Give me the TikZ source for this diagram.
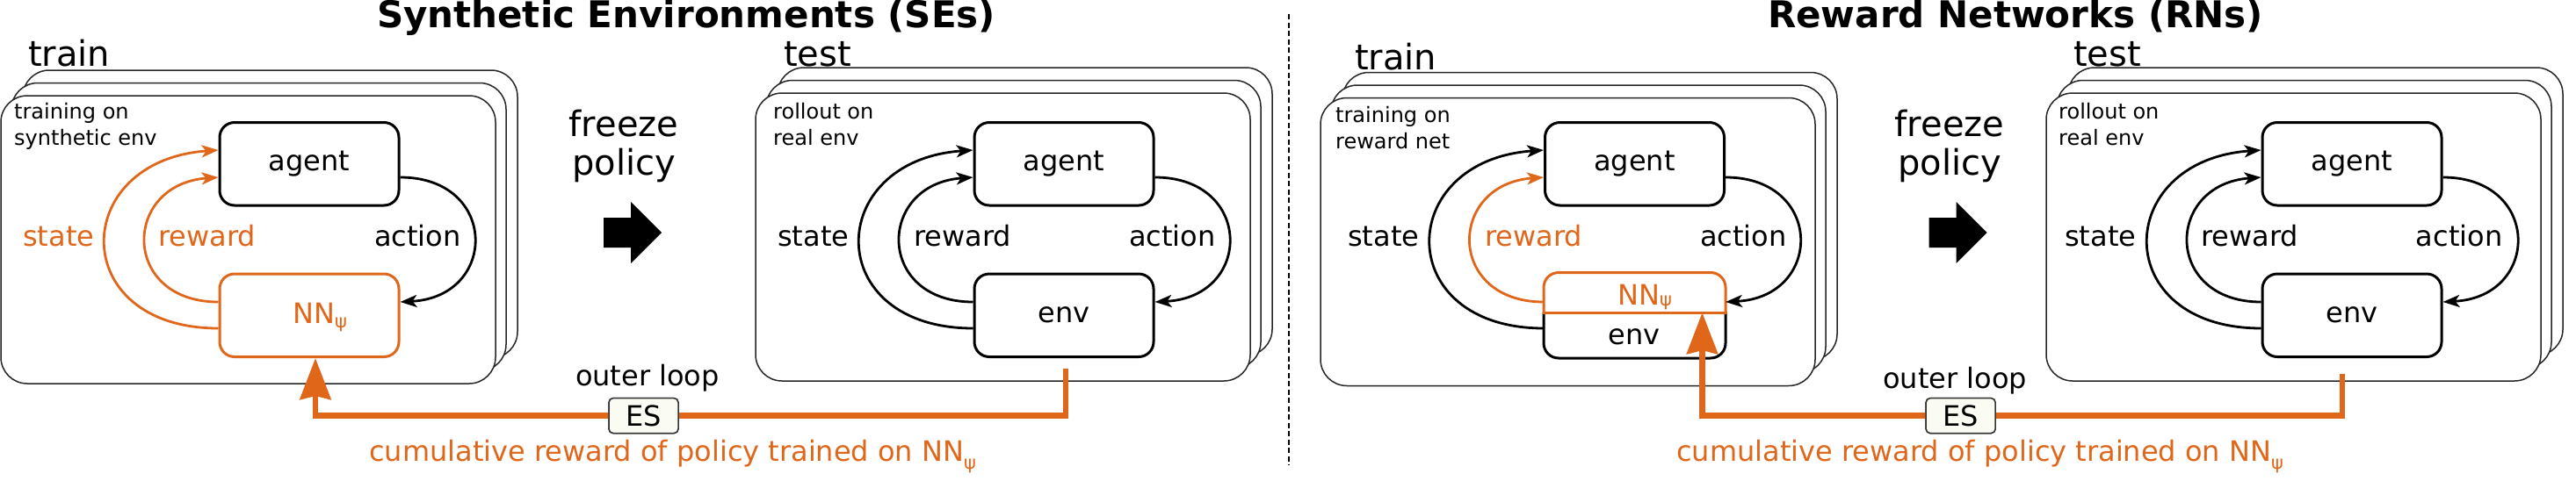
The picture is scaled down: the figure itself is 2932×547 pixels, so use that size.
\documentclass[tikz,border=0pt]{standalone}
\usepackage{fontspec}
\setmainfont{DejaVu Sans}
\usetikzlibrary{arrows.meta,calc}
\definecolor{orng}{RGB}{224,102,26}
\definecolor{esfill}{RGB}{250,251,242}
\newcommand{\stackpanel}[2]{%
  \draw[stackline] (#1+25,#2-29) rectangle +(563,328);
  \draw[stackline] (#1+12,#2-14.5) rectangle +(563,328);
  \draw[stackline] (#1,#2) rectangle +(563,328);
}
\newcommand{\psisub}[1]{\raisebox{-#1pt}{\fontsize{21}{21}\selectfont ψ}}
\newcommand{\rlarcs}[4]{%
  \draw[arcline,#3] ($(#2.west)+(0,14.75)$) .. controls +(-173,0) and +(-170,12) .. ($(#1.west)+(0,-15.75)$);
  \draw[arcline,#4] ($(#2.west)+(0,-15.25)$) .. controls +(-111,0) and +(-110,8) .. ($(#1.west)+(0,15.25)$);
  \draw[arcline] ($(#1.east)+(0,15.25)$) .. controls +(112,0) and +(112,-6) .. ($(#2.east)+(0,-15.25)$);
}
\begin{document}
\begin{tikzpicture}[x=1pt,y=-1pt,
  lbl/.style={font=\fontsize{32}{38}\selectfont, inner sep=0pt},
  sml/.style={font=\fontsize{24}{30}\selectfont, inner sep=0pt, align=left},
  big/.style={font=\fontsize{40}{44}\selectfont, inner sep=0pt},
  ttl/.style={font=\fontsize{42}{48}\selectfont\bfseries, inner sep=0pt},
  box/.style={draw, line width=3pt, rounded corners=17pt, minimum width=204pt, minimum height=94.5pt, inner sep=0pt, font=\fontsize{32}{38}\selectfont},
  arcline/.style={line width=2.8pt, -{Stealth[length=19pt,width=14pt,inset=5pt]}},
  bigarr/.style={draw=orng, line width=6.5pt, -{Stealth[length=47pt,width=35pt,inset=4pt]}},
  stackline/.style={draw=black!85, line width=1.5pt, fill=white, rounded corners=30pt},
  esbox/.style={draw=black!80, line width=1.5pt, fill=esfill, rounded corners=5pt, minimum width=79pt, minimum height=40pt, inner sep=0pt, font=\fontsize{32}{38}\selectfont},
]
\useasboundingbox (0,0) rectangle (2932,547);

% titles
\node[ttl, anchor=base] (t1) at (781,31) {Synthetic Environments (SEs)};
\node[ttl, anchor=base] (t2) at (2294,31) {Reward Networks (RNs)};

% divider
\draw[line width=2pt, dash pattern=on 6pt off 3.5pt] (1466.6,16) -- (1466.6,530);

% ---------- SE train ----------
\node[big, anchor=base west] at (32,75) {train};
\stackpanel{1}{109}
\node[sml, anchor=base west] at (16,165) {training on\\synthetic env};
\node[box] (ag1) at (352,186.75) {agent};
\node[box, draw=orng] (nn1) at (352,359.25) {};
\node[lbl, text=orng, anchor=base] at (364,368) {NN\psisub{5}};
\rlarcs{ag1}{nn1}{orng}{orng}
\node[lbl, text=orng, anchor=base west] at (26,280) {state};
\node[lbl, text=orng, anchor=base west] at (180,280) {reward};
\node[lbl, anchor=base west] at (426,280) {action};

% freeze policy SE
\node[big, align=center, anchor=base] at (710,199) {freeze\\policy};
\fill (687,248) -- (718,248) -- (718,230) -- (753,265) -- (718,300) -- (718,282) -- (687,282) -- cycle;

% ---------- SE test ----------
\node[big, anchor=base west] at (892,75) {test};
\stackpanel{860}{106}
\node[sml, anchor=base west] at (880,165) {rollout on\\real env};
\node[box] (ag2) at (1211,186.75) {agent};
\node[box] (en2) at (1211,359.25) {env};
\rlarcs{ag2}{en2}{black}{black}
\node[lbl, anchor=base west] at (885,280) {state};
\node[lbl, anchor=base west] at (1040,280) {reward};
\node[lbl, anchor=base west] at (1285,280) {action};

% outer loop SE
\coordinate (o1) at ($(en2.south)+(2,11.5)$);
\node[lbl, anchor=base] at (737,439) {outer loop};
\node[esbox] (es1) at (732.5,473.6) {\phantom{ES}};
\draw[bigarr] (o1) |- (es1.center) -| ($(nn1.south)+(7,0)$);
\node[esbox] at (es1) {ES};
\node[lbl, text=orng, anchor=base west] at (420,525) {cumulative reward of policy trained on NN\psisub{9}};

% ---------- RN train ----------
\node[big, anchor=base west] at (1542,79.5) {train};
\stackpanel{1503}{111.5}
\node[sml, anchor=base west] at (1520,169) {training on\\reward net};
\node[box] (ag3) at (1860.5,186.75) {agent};
\node[box, draw=none] (en3) at (1860.5,359.25) {};
\draw[line width=3pt, rounded corners=17pt] ($(en3.north west)+(0,45.6)$) -- (en3.south west) -- (en3.south east) -- ($(en3.north east)+(0,45.6)$);
\draw[line width=3pt, rounded corners=17pt, draw=orng] ($(en3.north west)+(0,45.6)$) -- (en3.north west) -- (en3.north east) -- ($(en3.north east)+(0,45.6)$);
\draw[line width=3pt, draw=orng, line cap=rect] ($(en3.north west)+(0,45.6)$) -- ($(en3.north east)+(0,45.6)$);
\node[lbl, text=orng, anchor=base] at (1872,347) {NN\psisub{1}};
\node[lbl, anchor=base] at (1860,392.5) {env};
\rlarcs{ag3}{en3}{black}{orng}
\node[lbl, anchor=base west] at (1534,280) {state};
\node[lbl, text=orng, anchor=base west] at (1690,280) {reward};
\node[lbl, anchor=base west] at (1935,280) {action};

% freeze policy RN
\node[big, align=center, anchor=base] at (2219,199) {freeze\\policy};
\fill (2195.5,248) -- (2226.5,248) -- (2226.5,230) -- (2261.5,265) -- (2226.5,300) -- (2226.5,282) -- (2195.5,282) -- cycle;

% ---------- RN test ----------
\node[big, anchor=base west] at (2360,75) {test};
\stackpanel{2329}{106}
\node[sml, anchor=base west] at (2343,165) {rollout on\\real env};
\node[box] (ag4) at (2677,186.75) {agent};
\node[box] (en4) at (2677,359.25) {env};
\rlarcs{ag4}{en4}{black}{black}
\node[lbl, anchor=base west] at (2350,280) {state};
\node[lbl, anchor=base west] at (2505,280) {reward};
\node[lbl, anchor=base west] at (2749.6,280) {action};

% outer loop RN
\coordinate (o2) at ($(en4.south)+(-11,17.5)$);
\node[lbl, anchor=base] at (2225,442) {outer loop};
\node[esbox] (es2) at (2231.6,473.6) {\phantom{ES}};
\draw[bigarr] (o2) |- (es2.center) -| ($(en3.north)+(77,45.6)$);
\node[esbox] at (es2) {ES};
\node[lbl, text=orng, anchor=base west] at (1908,525) {cumulative reward of policy trained on NN\psisub{9}};
\end{tikzpicture}
\end{document}
